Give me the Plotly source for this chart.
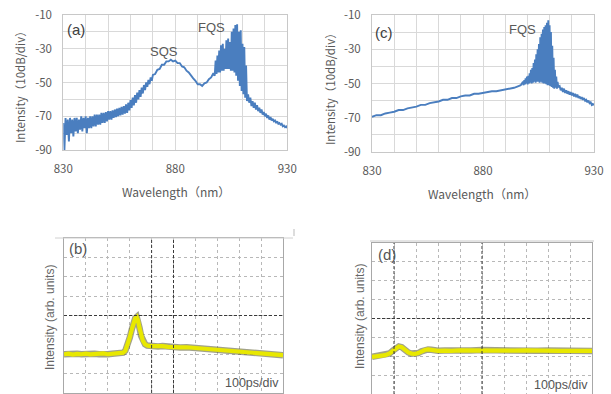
import plotly.graph_objects as go

W, H = 611, 394

# ---------------- data ----------------
# (a) spectrum: wavelength (nm) / intensity (dB)
A_WL = [
    830.0, 830.5, 831.0, 831.5, 832.0, 832.5, 833.0, 833.5, 834.0, 834.5, 835.0, 835.5, 836.0, 836.5,
    837.0, 837.5, 838.0, 838.5, 839.0, 839.5, 840.0, 840.5, 841.0, 841.5, 842.0, 842.5, 843.0, 843.5,
    844.0, 844.5, 845.0, 845.5, 846.0, 846.5, 847.0, 847.5, 848.0, 848.5, 849.0, 849.5, 850.0,
    850.5, 851.0, 851.5, 852.0, 852.5, 853.0, 853.5, 854.0, 854.5, 855.0, 855.5, 856.0, 856.5, 857.0,
    857.5, 858.0, 858.5, 859.0, 859.5, 860.0, 860.5, 861.0, 861.5, 862.0, 862.5, 863.0, 863.5, 864.0,
    864.5, 865.0, 865.5, 866.0, 866.5, 867.0, 867.5, 868.0, 868.5, 869.0, 869.5, 870.0,
    871, 872, 873, 874, 875, 876, 877, 878, 879, 880, 881, 882, 883, 884, 885, 886, 887, 888, 889,
    890, 891, 892, 893, 894, 895, 896, 897,
    897.6, 898.0, 898.4, 898.8, 899.2, 899.6, 900.0, 900.4, 900.8, 901.2, 901.6, 902.0, 902.4, 902.8,
    903.2, 903.6, 904.0, 904.4, 904.8, 905.2, 905.6, 906.0, 906.4, 906.8, 907.2, 907.6, 908.0, 908.4,
    908.8, 909.2, 909.6, 910.0, 910.4, 910.8, 911.2, 911.6, 912.0,
    912.5, 913.0, 913.5, 914.0, 914.5, 915.0, 915.5, 916.0, 916.5, 917.0, 917.5, 918.0, 918.5, 919.0,
    919.5, 920.0, 920.5, 921.0, 921.5, 922.0, 922.5, 923.0, 923.5, 924.0, 924.5, 925.0, 925.5, 926.0,
    926.5, 927.0, 927.5, 928.0, 928.5, 929.0, 929.5, 930.0,
]
A_DB = [
    -74, -90, -71, -81, -72, -85, -71, -80, -72, -82, -71, -79, -71, -80,
    -72, -78, -70, -79, -71, -77, -70, -80, -71, -77, -70, -77, -70, -76,
    -69, -76, -69, -75, -69, -75, -68, -74, -68, -74, -67.5, -73, -67,
    -72, -67, -72, -66.5, -71, -66, -70.5, -65.5, -70, -65, -69.5, -64.5, -69, -64,
    -68.5, -63, -68, -62, -66.5, -60.5, -65, -59, -63.5, -57.5, -62, -56, -60, -54.5,
    -58.5, -53, -56.5, -51.5, -54.5, -50, -52.5, -48.5, -51, -47, -49, -45.5,
    -45, -42.5, -42, -39.5, -39.5, -37.5, -37.5, -36.5, -37.5, -37, -38.5, -38.5, -40.5, -41, -43, -44, -46, -47.5, -49,
    -51, -51, -52, -50.5, -50, -48, -47, -44.5,
    -46, -37, -45, -34, -44, -31, -44, -28, -43, -27, -43, -30, -42, -25,
    -42, -24, -42, -26, -43, -20, -43, -18, -44, -16, -46, -15.5, -49, -20,
    -52, -19, -55, -27, -57, -29, -59, -40, -61,
    -57, -62, -59, -64, -61, -65, -62, -66, -63.5, -67, -65, -68, -66, -69,
    -67.5, -70, -68.5, -71, -69.5, -72, -70.5, -72.5, -71.5, -73, -72.5, -74, -73, -74.5,
    -74, -75, -74.5, -76, -75.5, -76.5, -76, -77,
]

# (c) spectrum
C_WL = [
    830, 832, 834, 836, 838, 840, 842, 844, 846, 848, 850, 852, 854, 856, 858, 860, 862, 864, 866, 868,
    870, 872, 874, 876, 878, 880, 882, 884, 886, 888, 890, 892, 894, 896, 897,
    898.0, 898.3, 898.6, 898.9, 899.2, 899.5, 899.8, 900.1, 900.4, 900.7, 901.0, 901.3, 901.6, 901.9,
    902.2, 902.5, 902.8, 903.1, 903.4, 903.7, 904.0, 904.3, 904.6, 904.9, 905.2, 905.5, 905.8, 906.1,
    906.4, 906.7, 907.0, 907.3, 907.6, 907.9, 908.2, 908.5, 908.8, 909.1, 909.4, 909.7, 910.0, 910.3,
    910.6, 910.9, 911.2, 911.5, 911.8, 912.1, 912.4, 912.7, 913.0, 913.3, 913.6, 913.9,
    914.5, 915.0, 915.5, 916.0, 916.5, 917.0, 917.5, 918.0, 918.5, 919.0, 919.5, 920.0, 920.5, 921.0,
    921.5, 922.0, 922.5, 923.0, 923.5, 924.0, 924.5, 925.0, 925.5, 926.0, 926.5, 927.0, 927.5, 928.0,
    928.5, 929.0, 929.5, 930.0,
]
C_DB = [
    -69.5, -68.5, -68.5, -67.5, -67, -66.5, -65.5, -65.5, -64.5, -64, -63.5, -62.5, -62.5, -61.5, -61, -60.5, -59.5, -59.5, -58.5, -58.5,
    -57.5, -57, -57, -56, -56, -55.5, -55, -54.5, -54.5, -54, -53.5, -53, -52.5, -51.5, -51,
    -49, -51, -48, -50.5, -47, -50, -46, -50.5, -45.5, -50, -44, -49.5, -42, -50,
    -41, -49.5, -38, -49, -36, -49.5, -33, -49, -30, -49, -27, -49.5, -23, -49,
    -21, -49.5, -18.5, -50, -17, -50, -16, -50.5, -14.5, -51, -13, -51, -16, -51.5,
    -20, -52, -28, -52.5, -35, -53, -42, -52.5, -46, -53, -49, -52,
    -51.5, -54, -52.5, -55, -53, -55.5, -54, -56, -54.5, -56.5, -55, -57, -55.5, -57.5,
    -56, -58, -56.5, -58.5, -57.5, -59, -58, -59.5, -58.5, -60, -59.5, -61, -60, -61.5,
    -61, -62.5, -62, -62.5,
]

# (b) streak trace: time (ps) / intensity (arb. units, divisions)
B_T = [0, 20, 40, 60, 80, 100, 120, 140, 160, 180, 200, 220, 240, 260, 270, 280, 290, 300, 310, 318,
       325, 332, 338, 345, 352, 360, 370, 380, 395, 410, 430, 450, 475, 500, 530, 560, 600, 640, 680,
       720, 760, 800, 840, 880, 920, 960, 1000]
B_V = [2.0, 2.03, 1.98, 2.02, 2.0, 2.03, 1.99, 2.02, 2.0, 2.04, 2.0, 2.03, 2.02, 2.05, 2.08, 2.18,
       2.45, 2.85, 3.3, 3.65, 3.85, 3.92, 3.75, 3.35, 2.95, 2.7, 2.52, 2.45, 2.42, 2.43, 2.4, 2.42,
       2.38, 2.39, 2.35, 2.36, 2.32, 2.3, 2.27, 2.24, 2.2, 2.15, 2.1, 2.05, 2.0, 1.98, 1.95]

# (d) streak trace
D_T = [0, 20, 40, 60, 80, 95, 110, 122, 135, 150, 165, 180, 195, 210, 225, 240, 255, 270, 285, 300,
       330, 360, 400, 450, 500, 550, 600, 650, 700, 750, 800, 850, 900, 950, 1000]
D_V = [1.97, 2.0, 2.03, 2.06, 2.15, 2.3, 2.45, 2.52, 2.48, 2.32, 2.2, 2.14, 2.12, 2.17, 2.26, 2.33,
       2.36, 2.34, 2.3, 2.29, 2.3, 2.28, 2.31, 2.3, 2.33, 2.31, 2.32, 2.3, 2.31, 2.29, 2.3, 2.28,
       2.29, 2.27, 2.28]

# tick definitions
WL_TICKS = [830, 840, 850, 860, 870, 880, 890, 900, 910, 920, 930]
WL_LABELS = ["830", "", "", "", "", "880", "", "", "", "", "930"]
DB_TICKS = [-90, -80, -70, -60, -50, -40, -30, -20, -10]
DB_LABELS = ["-90", "", "-70", "", "-50", "", "-30", "", "-10"]
T_TICKS = [0, 100, 200, 300, 400, 500, 600, 700, 800, 900, 1000]
V_TICKS = [0, 1, 2, 3, 4, 5, 6, 7, 8]


def px(x):
    return x / W


def py(y):
    return 1 - y / H


BLUE = "#4a7ebf"
TICKFONT = dict(family="Noto Sans CJK JP", size=11.5, color="#595959")

fig = go.Figure()

fig.add_trace(go.Scatter(x=A_WL, y=A_DB, mode="lines", line=dict(color=BLUE, width=1.9),
                         xaxis="x", yaxis="y", showlegend=False))
fig.add_trace(go.Scatter(x=C_WL, y=C_DB, mode="lines", line=dict(color=BLUE, width=1.9),
                         xaxis="x2", yaxis="y2", showlegend=False))
for t, v, xa, ya in [(B_T, B_V, "x3", "y3"), (D_T, D_V, "x4", "y4")]:
    fig.add_trace(go.Scatter(x=t, y=v, mode="lines", line=dict(color="rgba(70,70,20,0.5)", width=6.5),
                             xaxis=xa, yaxis=ya, showlegend=False))
    fig.add_trace(go.Scatter(x=t, y=v, mode="lines", line=dict(color="#e8e800", width=4.2),
                             xaxis=xa, yaxis=ya, showlegend=False))

top_x = dict(range=[830, 930], tickvals=WL_TICKS, ticktext=WL_LABELS, showgrid=True,
             gridcolor="#d9d9d9", gridwidth=1, showline=True, mirror=True, linecolor="#c8c8c8",
             zeroline=False, ticks="", tickfont=TICKFONT, ticklabelstandoff=8, automargin=False)
top_y = dict(range=[-90, -10], tickvals=DB_TICKS, ticktext=DB_LABELS, showgrid=True,
             gridcolor="#d9d9d9", gridwidth=1, showline=True, mirror=True, linecolor="#c8c8c8",
             zeroline=False, ticks="", tickfont=TICKFONT, ticklabelstandoff=8, automargin=False)
bot_x = dict(range=[0, 1000], tickvals=T_TICKS, showticklabels=False, showgrid=True,
             gridcolor="#b8b8b8", griddash="dot", gridwidth=1, showline=True, mirror=True,
             linecolor="#a8a8a8", zeroline=False, ticks="", automargin=False)
bot_y = dict(range=[0, 8], tickvals=V_TICKS, showticklabels=False, showgrid=True,
             gridcolor="#b8b8b8", griddash="dot", gridwidth=1, showline=True, mirror=True,
             linecolor="#a8a8a8", zeroline=False, ticks="", automargin=False)

fig.update_layout(
    width=W, height=H, margin=dict(l=0, r=0, t=0, b=0, pad=0, autoexpand=False),
    paper_bgcolor="white", plot_bgcolor="white", showlegend=False,
    xaxis=dict(domain=[px(63.3), px(287.3)], anchor="y", **top_x),
    yaxis=dict(domain=[py(150), py(15)], anchor="x", **top_y),
    xaxis2=dict(domain=[px(372), px(594)], anchor="y2", **top_x),
    yaxis2=dict(domain=[py(152), py(15)], anchor="x2", **top_y),
    xaxis3=dict(domain=[px(64), px(283)], anchor="y3", **bot_x),
    yaxis3=dict(domain=[py(393), py(238)], anchor="x3", **bot_y),
    xaxis4=dict(domain=[px(372), px(592)], anchor="y4", **bot_x),
    yaxis4=dict(domain=[py(394), py(243)], anchor="x4", **bot_y),
)

shapes = []
# darker centre lines on the oscilloscope screens
for xa, ya, xs, ys in [("x3", "y3", [400, 500], [4]), ("x4", "y4", [100, 500], [4])]:
    for xv in xs:
        shapes.append(dict(type="line", xref=xa, yref=ya, x0=xv, x1=xv, y0=0, y1=8,
                           line=dict(color="#3a3a3a", width=1, dash="3px,2px")))
    for yv in ys:
        shapes.append(dict(type="line", xref=xa, yref=ya, x0=0, x1=1000, y0=yv, y1=yv,
                           line=dict(color="#3a3a3a", width=1, dash="3px,2px")))
# thin frame fragments around the lower images
shapes.append(dict(type="line", xref="paper", yref="paper", x0=px(55), x1=px(293), y0=py(238), y1=py(238),
                   line=dict(color="#d0d0d0", width=1)))
shapes.append(dict(type="line", xref="paper", yref="paper", x0=px(294), x1=px(294), y0=py(229), y1=py(236),
                   line=dict(color="#bbbbbb", width=1)))
shapes.append(dict(type="line", xref="paper", yref="paper", x0=px(370), x1=px(594), y0=py(241), y1=py(241),
                   line=dict(color="#c8c8c8", width=1)))
fig.update_layout(shapes=shapes)

CJK = "Noto Sans CJK JP"
ARIAL = "Liberation Sans"


def ann(text, x, y, size, color, family, angle=0):
    fig.add_annotation(text=text, x=px(x), y=py(y), xref="paper", yref="paper", showarrow=False,
                       xanchor="center", yanchor="middle", textangle=angle,
                       font=dict(size=size, color=color, family=family))


ann("(a)", 76, 29, 15, "#404040", ARIAL)
ann("SQS", 164, 51, 13, "#595959", ARIAL)
ann("FQS", 212, 27, 13, "#595959", ARIAL)
ann("(c)", 384, 32, 15, "#404040", ARIAL)
ann("FQS", 522, 29, 13, "#595959", ARIAL)
ann("Intensity（10dB/div）", 20, 84, 11.5, "#595959", CJK, -90)
ann("Intensity（10dB/div）", 330, 86, 11.5, "#595959", CJK, -90)
ann("Wavelength（nm）", 176, 191, 12, "#595959", CJK)
ann("Wavelength（nm）", 482, 193, 12, "#595959", CJK)
ann("(b)", 78, 248, 15, "#555555", ARIAL)
ann("(d)", 387, 254, 15, "#555555", ARIAL)
ann("100ps/div", 252, 383, 12.5, "#555555", ARIAL)
ann("100ps/div", 561, 385, 12.5, "#555555", ARIAL)
ann("Intensity (arb. units)", 50, 318, 12, "#666666", ARIAL, -90)
ann("Intensity (arb. units)", 360, 317, 12, "#666666", ARIAL, -90)

fig.write_html("out.html", config={"displayModeBar": False},
               post_script="document.body.style.margin='0';document.body.style.overflow='hidden';")
